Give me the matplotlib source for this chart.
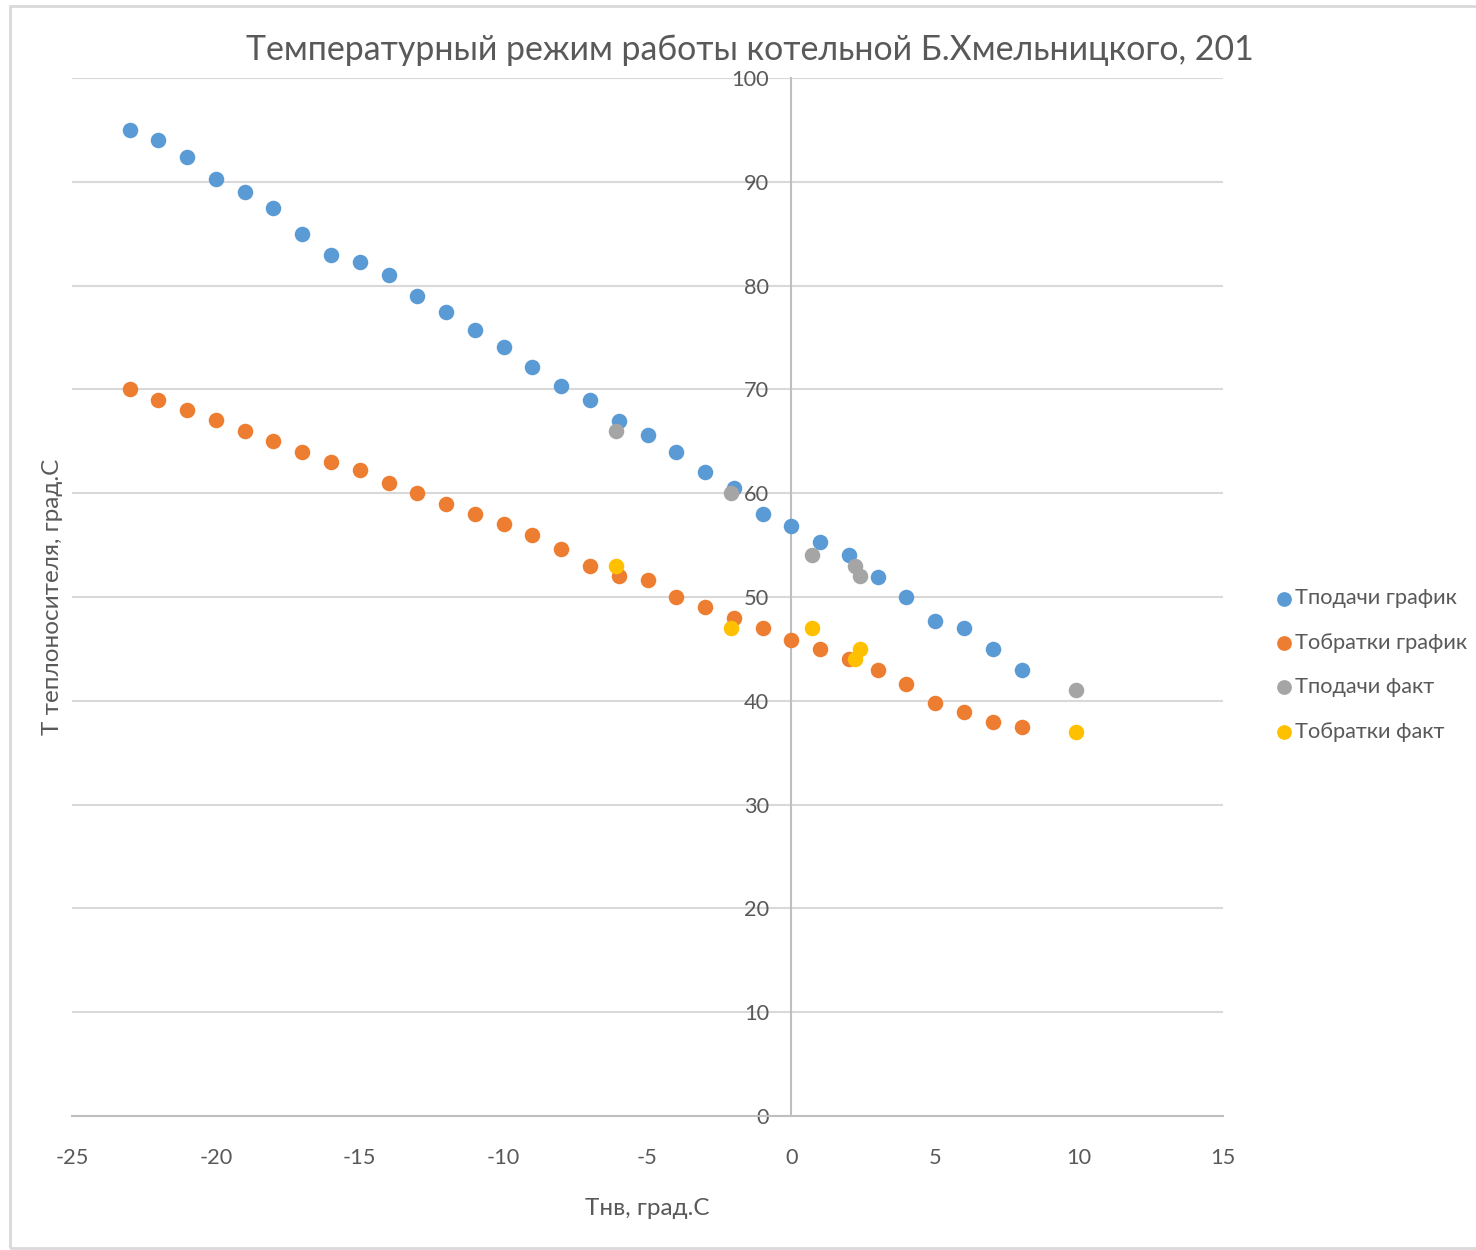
import matplotlib
matplotlib.use("Agg")
import matplotlib.pyplot as plt
from matplotlib.patches import Rectangle

plt.rcParams['font.family'] = ['Lato', 'DejaVu Sans']
plt.rcParams['axes.unicode_minus'] = False

# Data
t_out_sched = [-23, -22, -21, -20, -19, -18, -17, -16, -15, -14, -13, -12, -11, -10,
               -9, -8, -7, -6, -5, -4, -3, -2, -1, 0, 1, 2, 3, 4, 5, 6, 7, 8]
t_supply_sched = [95.0, 94.0, 92.4, 90.3, 89.0, 87.5, 85.0, 82.9, 82.3, 81.0, 79.0, 77.5,
                  75.7, 74.1, 72.2, 70.3, 69.0, 67.0, 65.6, 64.0, 62.0, 60.5, 58.0, 56.8,
                  55.3, 54.0, 51.9, 50.0, 47.7, 47.0, 45.0, 43.0]
t_return_sched = [70.0, 69.0, 68.0, 67.1, 66.0, 65.0, 64.0, 63.0, 62.2, 61.0, 60.0, 59.0,
                  58.0, 57.0, 56.0, 54.6, 53.0, 52.0, 51.6, 50.0, 49.0, 48.0, 47.0, 45.9,
                  45.0, 44.0, 43.0, 41.6, 39.8, 38.9, 38.0, 37.5]
t_out_fact = [-6.1, -2.1, 0.7, 2.2, 2.4, 9.9]
t_supply_fact = [66.0, 60.0, 54.0, 53.0, 52.0, 41.0]
t_return_fact = [53.0, 47.0, 47.0, 44.0, 45.0, 37.0]

series_names = ['Тподачи график', 'Тобратки график', 'Тподачи факт', 'Тобратки факт']
colors = ['#5B9BD5', '#ED7D31', '#A5A5A5', '#FFC000']

title = 'Температурный режим работы котельной Б.Хмельницкого, 201'
xlabel = 'Тнв, град.С'
ylabel = 'Т теплоносителя, град.С'

txt = '#595959'

fig = plt.figure(figsize=(14.76, 12.5), dpi=100)
ax = fig.add_axes([72/1476, 1 - 1116/1250, (1223-72)/1476, (1116-78)/1250])

# outer chart border
fig.patches.append(Rectangle((10/1476, 2/1250), 1.0, 1 - 8/1250, transform=fig.transFigure,
                             fill=False, edgecolor='#D9D9D9', linewidth=2))

ms = 125
ax.scatter(t_out_sched, t_supply_sched, s=ms, color=colors[0], label=series_names[0], zorder=3, linewidths=0)
ax.scatter(t_out_sched, t_return_sched, s=ms, color=colors[1], label=series_names[1], zorder=3, linewidths=0)
ax.scatter(t_out_fact, t_supply_fact, s=ms, color=colors[2], label=series_names[2], zorder=4, linewidths=0)
ax.scatter(t_out_fact, t_return_fact, s=ms, color=colors[3], label=series_names[3], zorder=4, linewidths=0)

ax.set_xlim(-25, 15)
ax.set_ylim(0, 100)
ax.set_xticks(range(-25, 16, 5))
ax.set_yticks(range(0, 101, 10))
ax.yaxis.grid(True, color='#D9D9D9', linewidth=1.5, zorder=0)
ax.set_axisbelow(True)

for s in ['top', 'right']:
    ax.spines[s].set_visible(False)
ax.spines['left'].set_position(('data', 0))
ax.spines['left'].set_color('#BFBFBF')
ax.spines['left'].set_linewidth(1.5)
ax.spines['bottom'].set_color('#BFBFBF')
ax.spines['bottom'].set_linewidth(1.5)

ax.tick_params(axis='both', length=0, labelsize=15.7, colors=txt)
ax.tick_params(axis='y', pad=16)
ax.tick_params(axis='x', pad=23)

ax.set_xlabel(xlabel, fontsize=17.5, color=txt)
ax.xaxis.set_label_coords(0.5, -0.079)
fig.text(53/1476, 1 - 597/1250, ylabel, rotation=90, ha='center', va='center', fontsize=17.5, color=txt)

fig.text(750/1476, 1 - 50/1250, title, ha='center', va='center', fontsize=24.4, color=txt)

leg = ax.legend(loc='center left', bbox_to_anchor=(1262/1476, 1 - 665/1250), bbox_transform=fig.transFigure,
                frameon=False, fontsize=15.7, labelcolor=txt, handletextpad=-0.1, labelspacing=1.12,
                markerscale=0.95, borderaxespad=0, handlelength=1.2)

fig.savefig('out.png', dpi=100)
